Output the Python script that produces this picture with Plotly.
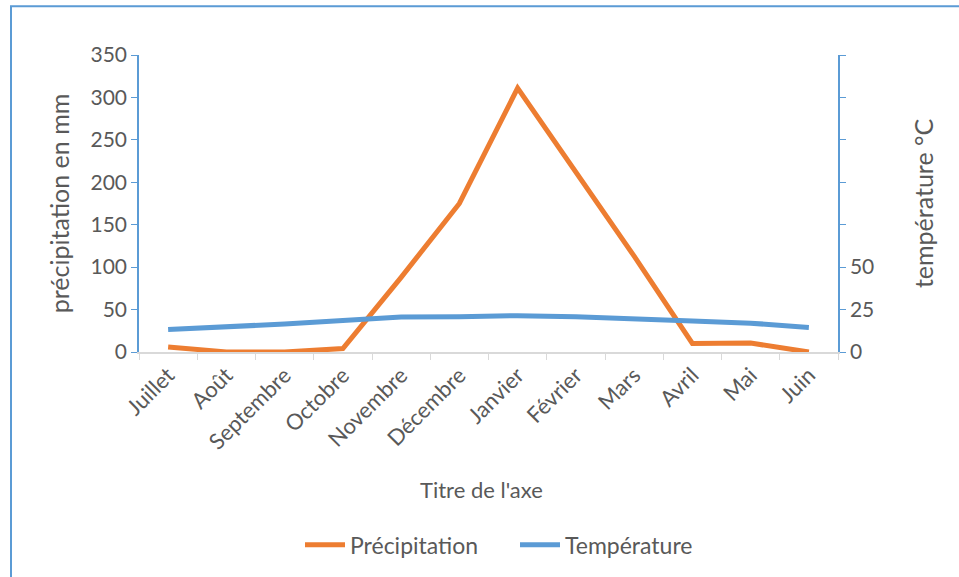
import plotly.graph_objects as go

mois = ["Juillet", "Août", "Septembre", "Octobre", "Novembre", "Décembre",
        "Janvier", "Février", "Mars", "Avril", "Mai", "Juin"]
precipitation = [6, 0, 0, 4, 88, 175, 311, 212, 113, 10, 10.5, 0]
temperature = [13.2, 14.6, 16.5, 18.6, 20.6, 20.8, 21.4, 20.8, 19.8, 18.3, 17.0, 14.5]

gauche_ticks = [0, 50, 100, 150, 200, 250, 300, 350]
droite_ticks = [0, 25, 50, 75, 100, 125, 150, 175]
droite_labels = ["0", "25", "50", "", "", "", "", ""]

ORANGE = "#ED7D31"
BLEU = "#5B9BD5"
GRIS = "#595959"
FONT = "Lato"

fig = go.Figure()
fig.add_trace(go.Scatter(x=mois, y=precipitation, name="Précipitation",
                         mode="lines", line=dict(color=ORANGE, width=5)))
fig.add_trace(go.Scatter(x=mois, y=temperature, name="Température", yaxis="y2",
                         mode="lines", line=dict(color=BLEU, width=5)))

fig.update_layout(
    width=959, height=577,
    margin=dict(l=139, r=121, t=55, b=224),
    paper_bgcolor="white", plot_bgcolor="white",
    font=dict(family=FONT, color=GRIS),
    showlegend=True,
    legend=dict(orientation="h", x=(300 - 139) / 699, xanchor="left", y=-0.644, yanchor="middle",
                font=dict(size=23, color=GRIS), itemwidth=40, entrywidth=160,
                entrywidthmode="pixels", tracegroupgap=0),
    xaxis=dict(
        type="category", tickson="boundaries", ticks="outside", ticklen=6,
        tickcolor="#D9D9D9", showline=True, linecolor="#D9D9D9", linewidth=1.5,
        showgrid=False, tickangle=-45, tickfont=dict(size=22, color=GRIS),
        range=[-0.5, 11.5],
    ),
    yaxis=dict(
        range=[0, 350], tickvals=gauche_ticks, showgrid=False, zeroline=False,
        showline=True, linecolor=BLEU, linewidth=1.5, ticks="outside",
        ticklen=6, tickcolor=BLEU, tickfont=dict(size=21, color=GRIS),
        title=dict(text="précipitation en mm", font=dict(size=25, color=GRIS), standoff=14),
    ),
    yaxis2=dict(
        range=[0, 175], tickvals=droite_ticks, ticktext=droite_labels,
        overlaying="y", side="right", showgrid=False, zeroline=False,
        showline=True, linecolor=BLEU, linewidth=1.5, ticks="outside",
        ticklen=6, tickcolor=BLEU, tickfont=dict(size=21, color=GRIS),
        title=dict(text="température °C", font=dict(size=25, color=GRIS), standoff=42),
    ),
    annotations=[dict(text="Titre de l'axe", xref="paper", yref="paper",
                      x=(481 - 139) / 699, y=(353 - 491) / 298,
                      xanchor="center", yanchor="middle", showarrow=False,
                      font=dict(size=22, color=GRIS))],
    shapes=[dict(type="rect", xref="paper", yref="paper",
                 x0=(11 - 139) / 699, x1=3, y0=-3, y1=(353 - 6) / 298,
                 line=dict(color=BLEU, width=2), layer="below")],
)

fig.write_html("out.html")
